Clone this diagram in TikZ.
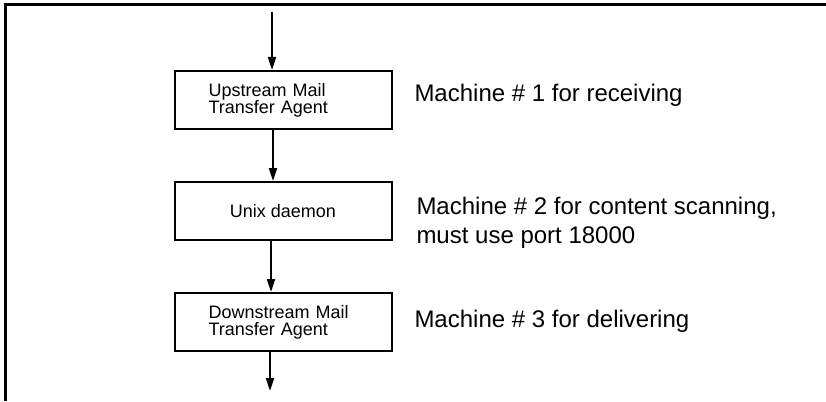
\documentclass[tikz,border=0pt]{standalone}
\usepackage{fontspec}
\setmainfont{Liberation Sans}
\usetikzlibrary{arrows.meta,positioning}

\begin{document}
\begin{tikzpicture}[
	x=1pt, y=-1pt,
	>={Triangle[length=13pt,width=8pt]},
	line width=2pt,
	node distance=51pt,
	box/.style={draw, minimum width=217pt, minimum height=58pt, inner sep=0pt,
		font=\fontsize{18}{17}\selectfont},
	mta/.style={box, align=left, text width=149pt, inner xsep=34pt},
	note/.style={align=left, inner sep=2pt, font=\fontsize{24}{29}\selectfont}
  ]

  \useasboundingbox (0,0) rectangle (826,401);
  % frame, only top and left edges show
  \draw[line width=3pt] (826,5) -- (5,5) -- (5,401);

  \node[mta] (up) at (283,100) 		{Upstream Mail\\Transfer Agent};
  \node[box] (scan) [below=of up] 	{Unix daemon};
  \node[mta] (down) [below=of scan] 	{Downstream Mail\\Transfer Agent};

  \node[note, right=19pt of up, yshift=4.5pt] (n1) 	{Machine \# 1 for receiving};
  \node[note, right=21pt of scan, yshift=-12pt] (n2) 	{Machine \# 2 for content scanning,\\must use port 18000};
  \node[note, right=19pt of down, yshift=1pt] (n3) 	{Machine \# 3 for delivering};

  \coordinate[above=58pt of up.north, xshift=-11pt] (in);
  \coordinate[below=39pt of down.south, xshift=-13pt] (out);

  \draw[->] (in) -- ([xshift=-11pt]up.north);
  \draw[->] ([xshift=-10pt]up.south) -- ([xshift=-10pt]scan.north);
  \draw[->] ([xshift=-12pt]scan.south) -- ([xshift=-12pt]down.north);
  \draw[->] ([xshift=-13pt]down.south) -- (out);

\end{tikzpicture}
\end{document}
